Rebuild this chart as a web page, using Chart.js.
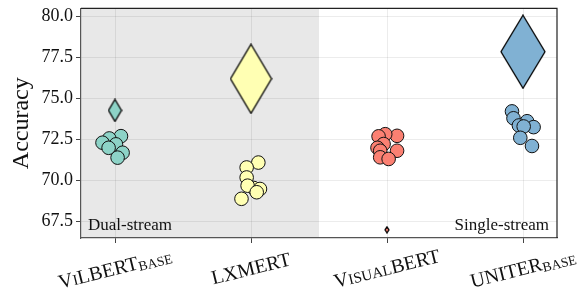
<!DOCTYPE html>
<html>
<head>
<meta charset="utf-8">
<script src="https://cdn.jsdelivr.net/npm/chart.js@4"></script>
<style>
  html, body { margin: 0; padding: 0; background: #fff; }
  #wrap { width: 584px; height: 293px; }
</style>
</head>
<body>
<div id="wrap"><canvas id="chart"></canvas></div>
<script>
// models on the x axis; lowercase letters are drawn as small caps
const models = ["ViLBERT", "LXMERT", "VisualBERT", "UNITER"];
const modelSub = ["base", "", "", "base"];
const colors = ["#8dd3c7", "#ffffb3", "#fb8072", "#80b1d3"];

// single runs: x jitter around the model position and accuracy
const vilbertJitter = [0.044, -0.042, -0.092, 0.007, -0.047, 0.056, 0.019];
const vilbertAcc = [72.71, 72.57, 72.31, 72.21, 72.0, 71.7, 71.4];
const lxmertJitter = [0.054, -0.032, -0.032, 0.02, -0.025, 0.066, 0.042, -0.07];
const lxmertAcc = [71.1, 70.8, 70.19, 69.55, 69.69, 69.49, 69.29, 68.89];
const visualbertJitter = [0.074, -0.013, -0.062, -0.025, -0.07, 0.074, -0.05, -0.05, 0.012];
const visualbertAcc = [72.73, 72.83, 72.7, 72.23, 72.0, 71.82, 71.82, 71.42, 71.32];
const uniterJitter = [-0.081, -0.07, 0.03, 0.078, -0.03, 0.005, -0.02, 0.066];
const uniterAcc = [74.22, 73.8, 73.62, 73.26, 73.36, 73.3, 72.61, 72.11];

// diamonds (mean marker)
const meanAcc = [74.28, 76.21, 67.0, 77.86];
const diamondH = [22, 69, 6, 73];

const yTicks = [67.5, 70.0, 72.5, 75.0, 77.5, 80.0];

const jitters = [vilbertJitter, lxmertJitter, visualbertJitter, uniterJitter];
const accs = [vilbertAcc, lxmertAcc, visualbertAcc, uniterAcc];

function diamond(h, fill) {
  const w = Math.max(3, Math.round(h * 0.6));
  const c = document.createElement("canvas");
  c.width = w + 2;
  c.height = h + 2;
  const g = c.getContext("2d");
  g.beginPath();
  g.moveTo(w / 2 + 1, 1);
  g.lineTo(w + 1, h / 2 + 1);
  g.lineTo(w / 2 + 1, h + 1);
  g.lineTo(1, h / 2 + 1);
  g.closePath();
  g.fillStyle = fill;
  g.fill();
  g.strokeStyle = "#000";
  g.lineWidth = 1.3;
  g.stroke();
  return c;
}

const datasets = [];
models.forEach((m, i) => {
  datasets.push({
    label: m,
    data: jitters[i].map((j, k) => ({ x: i + j, y: accs[i][k] })),
    backgroundColor: colors[i],
    borderColor: "#111",
    borderWidth: 1,
    pointRadius: 6.8,
  });
});
datasets.push({
  label: "mean",
  data: meanAcc.map((v, i) => ({ x: i, y: v })),
  pointStyle: meanAcc.map((v, i) => diamond(diamondH[i], colors[i])),
  pointRadius: 5,
});

const serif = "'Liberation Serif', 'DejaVu Serif', serif";

const deco = {
  id: "deco",
  beforeDraw(chart) {
    const { ctx, chartArea: a, scales } = chart;
    const mid = scales.x.getPixelForValue(1.5);
    ctx.save();
    ctx.fillStyle = "#e8e8e8";
    ctx.fillRect(a.left, a.top, mid - a.left, a.bottom - a.top);
    ctx.restore();
  },
  afterDraw(chart) {
    const { ctx, chartArea: a, scales } = chart;
    ctx.save();
    ctx.strokeStyle = "#222";
    ctx.lineWidth = 1.2;
    ctx.beginPath();
    ctx.moveTo(a.left, a.top);
    ctx.lineTo(a.right, a.top);
    ctx.lineTo(a.right, a.bottom);
    ctx.stroke();

    ctx.fillStyle = "#111";
    ctx.font = "17px " + serif;
    ctx.textBaseline = "alphabetic";
    ctx.textAlign = "left";
    ctx.fillText("Dual-stream", a.left + 7, a.bottom - 8);
    ctx.textAlign = "right";
    ctx.fillText("Single-stream", a.right - 8, a.bottom - 8);

    // x labels, small caps, rotated
    models.forEach((m, i) => {
      const runs = [];
      for (const ch of m) {
        const low = ch !== ch.toUpperCase();
        const last = runs[runs.length - 1];
        if (last && last.low === low && !last.sub) last.t += ch;
        else runs.push({ t: ch, low, sub: false });
      }
      if (modelSub[i]) runs.push({ t: modelSub[i], low: true, sub: true });
      let total = 0;
      runs.forEach(r => {
        r.size = r.sub ? 13.5 : (r.low ? 15 : 20);
        ctx.font = r.size + "px " + serif;
        r.w = ctx.measureText(r.t.toUpperCase()).width;
        total += r.w;
      });
      const px = scales.x.getPixelForValue(i);
      ctx.save();
      ctx.translate(px, a.bottom + 31);
      ctx.rotate(-14 * Math.PI / 180);
      let x = -total / 2;
      ctx.textAlign = "left";
      runs.forEach(r => {
        ctx.font = r.size + "px " + serif;
        ctx.fillText(r.t.toUpperCase(), x, r.sub ? 8 : 6);
        x += r.w;
      });
      ctx.restore();
    });
    ctx.restore();
  },
};

new Chart(document.getElementById("chart"), {
  type: "scatter",
  data: { datasets },
  options: {
    responsive: true,
    maintainAspectRatio: false,
    animation: false,
    layout: { padding: { top: 0, right: 27, left: 0, bottom: 0 } },
    plugins: { legend: { display: false }, tooltip: { enabled: false } },
    scales: {
      x: {
        type: "linear",
        min: -0.25,
        max: 3.25,
        afterBuildTicks: s => { s.ticks = [0, 1, 2, 3].map(v => ({ value: v })); },
        afterFit: s => { s.height = 55; },
        ticks: { callback: () => "", padding: 0 },
        grid: { color: "rgba(0,0,0,0.075)", tickColor: "#444", tickLength: 5, lineWidth: 1 },
        border: { color: "#555", width: 1.2 },
      },
      y: {
        min: 66.5,
        max: 80.5,
        afterBuildTicks: s => { s.ticks = yTicks.map(v => ({ value: v })); },
        afterFit: s => { s.width = 81; },
        ticks: {
          callback: v => Number(v).toFixed(1),
          color: "#111",
          padding: 3,
          font: { family: serif, size: 18, lineHeight: 0.6 },
        },
        grid: { color: "rgba(0,0,0,0.075)", tickColor: "#444", tickLength: 5, lineWidth: 1 },
        border: { color: "#555", width: 1.2 },
        title: {
          display: true,
          text: "Accuracy",
          color: "#111",
          font: { family: serif, size: 24 },
          padding: { top: 7, bottom: 0 },
        },
      },
    },
  },
  plugins: [deco],
});
</script>
</body>
</html>
